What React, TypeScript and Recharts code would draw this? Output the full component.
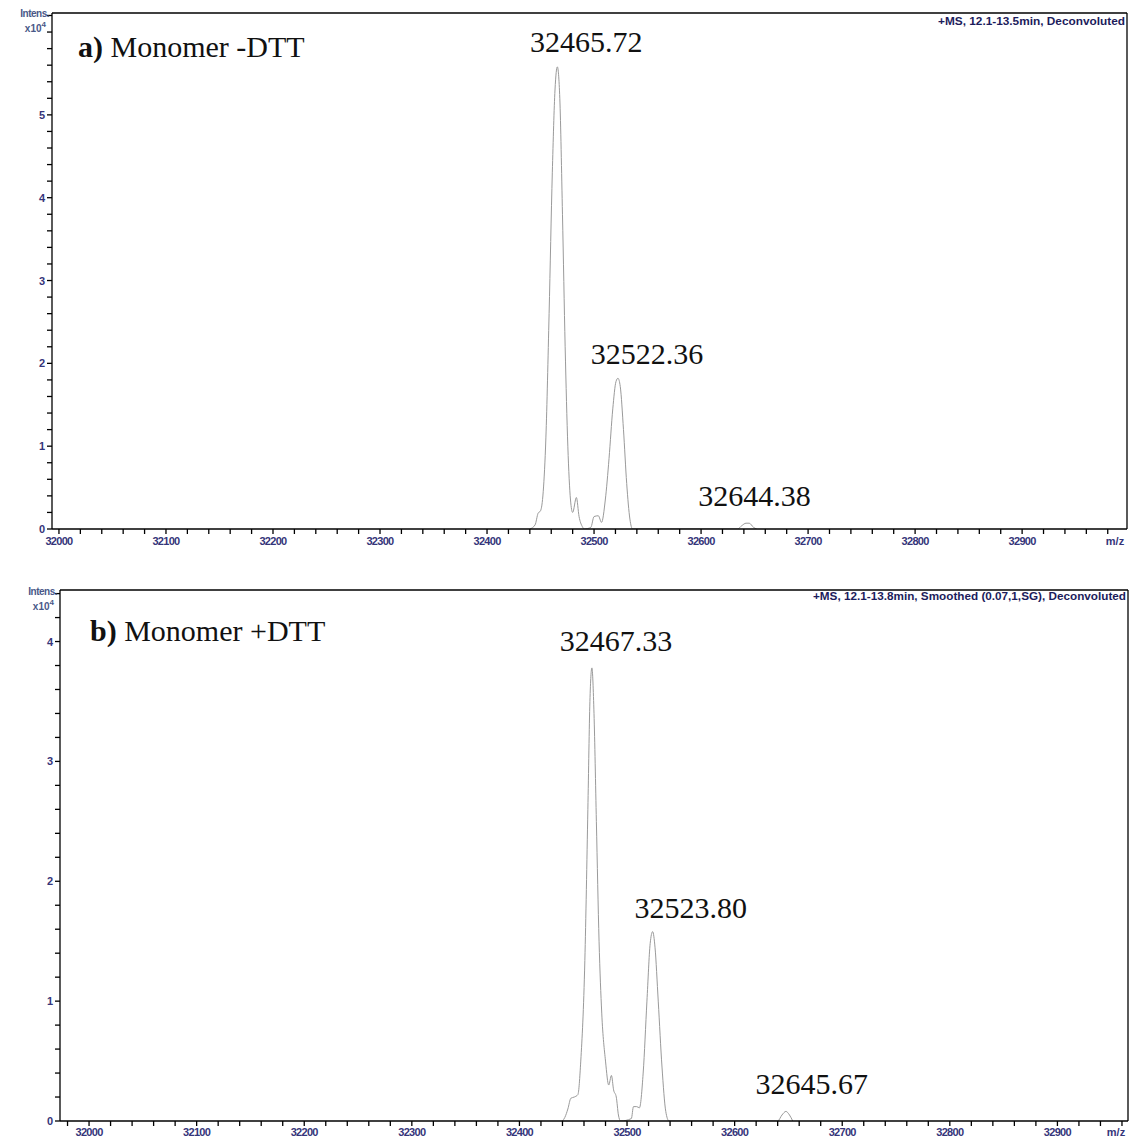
import React from 'react';
import { LineChart, Line, XAxis, YAxis, ReferenceLine, ReferenceDot } from 'recharts';

// panel a) Monomer -DTT, intensity in x10^4
const mzA = [
  32440, 32444.9, 32447.7, 32450, 32452.5, 32455, 32458, 32461, 32463.5, 32465.72, 32468,
  32470.5, 32473, 32475.5, 32478, 32480, 32483.5, 32486, 32489, 32491, 32497, 32500, 32504,
  32507, 32510.5, 32514, 32517.5, 32520.5, 32522.36, 32524.5, 32527.5, 32530.5, 32533.5,
  32536, 32634, 32638, 32642, 32645, 32649, 32652,
];
const intensA = [
  0, 0.05, 0.19, 0.22, 0.45, 1.1, 2.6, 4.3, 5.3, 5.58, 5.2,
  3.8, 2.2, 1.0, 0.35, 0.2, 0.38, 0.15, 0.03, 0, 0.02, 0.15, 0.16,
  0.08, 0.35, 0.85, 1.45, 1.78, 1.82, 1.72, 1.2, 0.55, 0.12,
  0, 0, 0.04, 0.07, 0.07, 0.02, 0,
];

// panel b) Monomer +DTT
const mzB = [
  32440, 32442.2, 32445, 32447.8, 32451, 32454.3, 32457, 32460.8, 32463.6, 32465.5, 32467.33,
  32469.3, 32471.5, 32474, 32476.5, 32480, 32483, 32485.5, 32487.5, 32490, 32492, 32494,
  32504, 32506, 32509, 32511.5, 32515, 32518.5, 32521.5, 32523.8, 32526, 32529, 32532.5,
  32536, 32539, 32640, 32644, 32647.67, 32651, 32654,
];
const intensB = [
  0, 0.03, 0.1, 0.19, 0.2, 0.22, 0.5, 1.34, 2.6, 3.5, 3.78,
  3.4, 2.5, 1.5, 0.9, 0.5, 0.3, 0.38, 0.26, 0.2, 0.05, 0,
  0.02, 0.12, 0.12, 0.11, 0.4, 1.0, 1.48, 1.58, 1.45, 1.0, 0.45,
  0.08, 0, 0, 0.05, 0.08, 0.05, 0,
];

const peakMzA = [32465.72, 32522.36, 32644.38];
const peakIntA = [5.58, 1.82, 0.07];
const peakMzB = [32467.33, 32523.8, 32645.67];
const peakIntB = [3.78, 1.58, 0.08];

const xLabels = [32000, 32100, 32200, 32300, 32400, 32500, 32600, 32700, 32800, 32900];
const yLabelsA = [0, 1, 2, 3, 4, 5];
const yLabelsB = [0, 1, 2, 3, 4];

const minorTicks = (from: number, to: number, step: number) => {
  const out: number[] = [];
  for (let v = from; v <= to + 1e-9; v += step) out.push(Math.round(v * 100) / 100);
  return out;
};

const tickColor = '#35357a';
const sans = '"Liberation Sans", Arial, sans-serif';
const serif = '"Liberation Serif", "Times New Roman", serif';

interface PanelProps {
  mz: number[];
  intens: number[];
  peakMz: number[];
  peakInt: number[];
  labelOffsets: number[][];
  xDomain: [number, number];
  yMax: number;
  yLabels: number[];
  margin: { top: number; right: number; bottom: number; left: number };
  xAxisHeight: number;
  height: number;
  top: number;
  title: string;
  titleX: number;
  titleY: number;
  header: string;
  headerWidth: number;
  headerY: number;
  intensY: number;
  labelDy: number;
}

const Panel = (p: PanelProps) => {
  const data = p.mz.map((m, i) => ({ mz: m, v: p.intens[i] }));
  const xTicks = minorTicks(Math.ceil(p.xDomain[0] / 20) * 20, p.xDomain[1], 20);
  const yTicks = minorTicks(0, p.yMax, 0.2);
  const plotLeft = p.margin.left + 30;
  const plotRight = 1132 - p.margin.right;
  const plotBottom = p.height - p.margin.bottom - p.xAxisHeight;

  const xTick = ({ x, y, payload }: any) =>
    xLabels.includes(payload.value) ? (
      <text x={x} y={y + p.labelDy} textAnchor="middle" fontSize={11} fontWeight="bold" fontFamily={sans} fill={tickColor} letterSpacing={-0.7}>
        {payload.value}
      </text>
    ) : <g />;

  const yTick = ({ x, y, payload }: any) =>
    p.yLabels.includes(payload.value) ? (
      <text x={x} y={y + 4} textAnchor="end" fontSize={11} fontWeight="bold" fontFamily={sans} fill={tickColor}>
        {payload.value}
      </text>
    ) : <g />;

  return (
    <div style={{ position: 'absolute', left: 0, top: p.top, width: 1132, height: p.height }}>
      <LineChart width={1132} height={p.height} data={data} margin={p.margin}>
        <XAxis
          dataKey="mz"
          type="number"
          domain={p.xDomain}
          allowDataOverflow
          ticks={xTicks}
          interval={0}
          tick={xTick}
          tickSize={5}
          tickMargin={2}
          height={p.xAxisHeight}
          axisLine={{ stroke: '#000', strokeWidth: 1.3 }}
          tickLine={{ stroke: '#000', strokeWidth: 1.3 }}
        />
        <YAxis
          type="number"
          domain={[0, p.yMax]}
          allowDataOverflow
          ticks={yTicks}
          interval={0}
          tick={yTick}
          tickSize={5}
          tickMargin={2}
          width={30}
          axisLine={{ stroke: '#000', strokeWidth: 1.3 }}
          tickLine={{ stroke: '#000', strokeWidth: 1.3 }}
        />
        <ReferenceLine y={p.yMax} stroke="#000" strokeWidth={1.3} ifOverflow="extendDomain" />
        <ReferenceLine x={p.xDomain[1]} stroke="#000" strokeWidth={1.3} ifOverflow="extendDomain" />
        <Line
          dataKey="v"
          type="monotone"
          stroke="#9a9a9a"
          strokeWidth={1}
          dot={false}
          isAnimationActive={false}
        />
        {p.peakMz.map((m, i) => (
          <ReferenceDot
            key={m}
            x={m}
            y={p.peakInt[i]}
            r={1}
            shape={(s: any) => (
              <text
                x={s.cx + p.labelOffsets[i][0]}
                y={s.cy + p.labelOffsets[i][1]}
                textAnchor="middle"
                fontSize={30}
                fontFamily={serif}
                fill="#111"
              >
                {m.toFixed(2)}
              </text>
            )}
          />
        ))}
      </LineChart>
      <svg width={1132} height={p.height} style={{ position: 'absolute', left: 0, top: 0, pointerEvents: 'none' }}>
        <text x={plotLeft - 3} y={p.intensY} textAnchor="end" fontSize={10} fontWeight="bold" fontFamily={sans} fill="#4a5888" letterSpacing={-0.5}>
          Intens.
        </text>
        <text x={plotLeft - 6} y={p.intensY + 15} textAnchor="end" fontSize={10} fontWeight="bold" fontFamily={sans} fill="#4a5888">
          x10<tspan dy={-5} fontSize={8}>4</tspan>
        </text>
        <text
          x={plotRight - 2}
          y={p.headerY}
          textAnchor="end"
          fontSize={10}
          fontWeight="bold"
          fontFamily={sans}
          fill="#1c1c5c"
          textLength={p.headerWidth}
          lengthAdjust="spacingAndGlyphs"
        >
          {p.header}
        </text>
        <text x={plotRight - 12} y={plotBottom + 5 + 2 + p.labelDy} textAnchor="middle" fontSize={11} fontWeight="bold" fontFamily={sans} fill={tickColor}>
          m/z
        </text>
        <text x={p.titleX} y={p.titleY} fontSize={30} fontFamily={serif} fill="#111">
          <tspan fontWeight="bold">{p.title.slice(0, 2)}</tspan>
          {p.title.slice(2)}
        </text>
      </svg>
    </div>
  );
};

export default function App() {
  return (
    <div style={{ position: 'absolute', left: 0, top: 0, width: 1132, height: 1137, background: '#fff' }}>
      <Panel
        mz={mzA}
        intens={intensA}
        peakMz={peakMzA}
        peakInt={peakIntA}
        labelOffsets={[[29, -15], [29, -14], [6, -17]]}
        xDomain={[31993.5, 32998]}
        yMax={6.23}
        yLabels={yLabelsA}
        margin={{ top: 13, right: 5, bottom: 11, left: 22 }}
        xAxisHeight={20}
        height={560}
        top={0}
        title="a) Monomer -DTT"
        titleX={78}
        titleY={57}
        header="+MS, 12.1-13.5min, Deconvoluted"
        headerWidth={187}
        headerY={25}
        intensY={17}
        labelDy={9}
      />
      <Panel
        mz={mzB}
        intens={intensB}
        peakMz={peakMzB}
        peakInt={peakIntB}
        labelOffsets={[[24, -17], [38, -14], [28, -17]]}
        xDomain={[31973, 32965.6]}
        yMax={4.43}
        yLabels={yLabelsB}
        margin={{ top: 13, right: 4, bottom: 0, left: 30 }}
        xAxisHeight={16}
        height={560}
        top={577}
        title="b) Monomer +DTT"
        titleX={90}
        titleY={641 - 577}
        header="+MS, 12.1-13.8min, Smoothed (0.07,1,SG), Deconvoluted"
        headerWidth={313}
        headerY={600 - 577}
        intensY={595 - 577}
        labelDy={8}
      />
    </div>
  );
}
